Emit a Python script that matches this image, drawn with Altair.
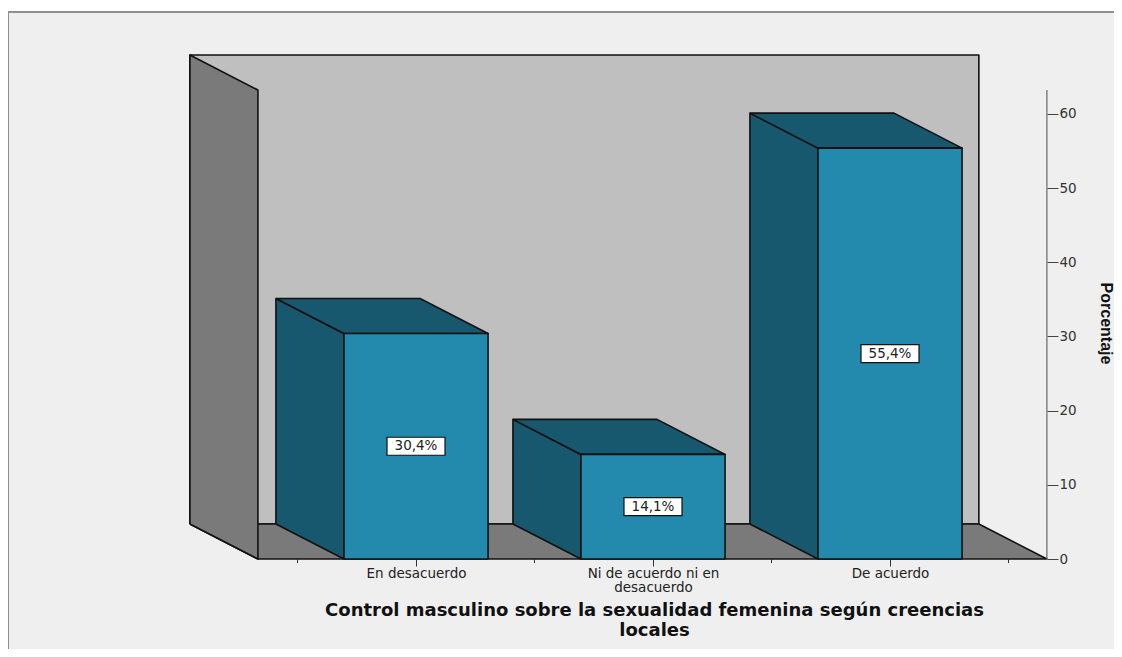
import json
import altair as alt
import pandas as pd

categories = ["En desacuerdo", "Ni de acuerdo ni en\ndesacuerdo", "De acuerdo"]
values = [30.4, 14.1, 55.4]
value_labels = ["30,4%", "14,1%", "55,4%"]
y_ticks = [0, 10, 20, 30, 40, 50, 60]
minor_x_ticks = [-0.5, 0.5, 1.5, 2.5]

# Plot size in pixels, and the per-pixel factors of the two axes
PLOT_W = 1106
PLOT_H = 637
TOP_PX = 12
PX_PER_CAT = 237.0
PX_PER_PCT = 7.417
ZERO_Y = 559 - TOP_PX
# Scale extents, in category units and percent
X_DOMAIN = [-408 / PX_PER_CAT, (PLOT_W - 408) / PX_PER_CAT]
Y_DOMAIN = [(ZERO_Y - PLOT_H) / PX_PER_PCT, ZERO_Y / PX_PER_PCT]
# Pseudo-3D geometry, in the same units
HALF_W = 0.304
DX = 0.287
DY = 4.72
WALL_L = -0.667
WALL_R = 2.662
WALL_TOP = 63.23

FRONT = "#2389AD"
SHADE = "#17586E"
WALL = "#BFBFBF"
DARK = "#7A7A7A"
EDGE = "#111111"

label_arrays = json.dumps([c.split("\n") for c in categories])
x_enc = alt.X("x:Q", scale=alt.Scale(domain=X_DOMAIN, nice=False, zero=False), axis=alt.Axis(
    orient="bottom", offset=-(PLOT_H - ZERO_Y), values=[0, 1, 2], domain=False, grid=False,
    tickSize=7, tickColor="#333333", labelExpr=f"{label_arrays}[datum.value]",
    labelFont="DejaVu Sans", labelFontSize=13.5, labelColor="#222222", labelPadding=0,
    labelLineHeight=14, labelOverlap=False,
    title=["Control masculino sobre la sexualidad femenina según creencias", "locales"],
    titleFont="DejaVu Sans", titleFontSize=18, titleFontWeight="bold", titleColor="#111111",
    titleLineHeight=20, titleX=646, titleY=51, titleBaseline="middle"))
y_enc = alt.Y("y:Q", scale=alt.Scale(domain=Y_DOMAIN, nice=False, zero=False), axis=alt.Axis(
    orient="right", offset=-(PLOT_W + 8 - 1047), values=y_ticks, domain=False, grid=False,
    tickSize=11, tickColor="#444444", labelPadding=1,
    labelFont="DejaVu Sans", labelFontSize=13.5, labelColor="#333333",
    title="Porcentaje", titleFont="Liberation Sans", titleFontSize=16, titleFontWeight="bold",
    titleColor="#111111", titleAngle=90, titleX=58, titleY=311, titleBaseline="middle"))


def poly(points, fill):
    first = points + [points[0]]
    df = pd.DataFrame({"x": [p[0] for p in first], "y": [p[1] for p in first],
                       "o": list(range(len(first)))})
    return alt.Chart(df).mark_line(
        fill=fill, stroke=EDGE, strokeWidth=1.6, strokeJoin="round", filled=True
    ).encode(x=x_enc, y=y_enc, order="o:Q")


# Outer frame, top and left only
frame_h = pd.DataFrame({"x": [X_DOMAIN[0]], "x2": [X_DOMAIN[1]], "y": [Y_DOMAIN[1]]})
frame_v = pd.DataFrame({"x": [X_DOMAIN[0]], "y": [Y_DOMAIN[0]], "y2": [Y_DOMAIN[1]]})

layers = [
    alt.Chart(frame_h).mark_rule(color="#8F8F8F", strokeWidth=2).encode(x=x_enc, x2="x2:Q", y=y_enc),
    alt.Chart(frame_v).mark_rule(color="#8F8F8F", strokeWidth=2).encode(x=x_enc, y=y_enc, y2="y2:Q"),
    poly([(WALL_L - DX, DY), (WALL_R - DX, DY), (WALL_R - DX, WALL_TOP + DY), (WALL_L - DX, WALL_TOP + DY)], WALL),
    poly([(WALL_L - DX, DY), (WALL_R - DX, DY), (WALL_R, 0), (WALL_L, 0)], DARK),
    poly([(WALL_L - DX, DY), (WALL_L, 0), (WALL_L, WALL_TOP), (WALL_L - DX, WALL_TOP + DY)], DARK),
]
for i, v in enumerate(values):
    l, r = i - HALF_W, i + HALF_W
    layers.append(poly([(l - DX, DY), (l, 0), (l, v), (l - DX, v + DY)], SHADE))
    layers.append(poly([(l - DX, v + DY), (r - DX, v + DY), (r, v), (l, v)], SHADE))
    layers.append(poly([(l, 0), (r, 0), (r, v), (l, v)], FRONT))

label_df = pd.DataFrame({"x": list(range(len(values))),
                         "y": [v / 2 for v in values],
                         "t": value_labels})
layers.append(alt.Chart(label_df).mark_rect(width=58, height=18, fill="white", stroke=EDGE, strokeWidth=1.2).encode(
    x=x_enc, y=y_enc))
layers.append(alt.Chart(label_df).mark_text(font="DejaVu Sans", fontSize=13.5, color="#222222").encode(
    x=x_enc, y=y_enc, text="t:N"))

# Minor x ticks
minor_df = pd.DataFrame({"x": minor_x_ticks, "y": [0.0] * 4, "y2": [-0.55] * 4})
layers.append(alt.Chart(minor_df).mark_rule(color="#333333", strokeWidth=1).encode(
    x=x_enc, y=y_enc, y2="y2:Q"))

# Right axis line
axis_df = pd.DataFrame({"x": [WALL_R], "y": [0.0], "y2": [WALL_TOP]})
layers.append(alt.Chart(axis_df).mark_rule(color="#666666", strokeWidth=1.2).encode(
    x=x_enc, y=y_enc, y2="y2:Q"))

chart = alt.layer(*layers).properties(
    width=PLOT_W, height=PLOT_H,
    padding={"left": 0, "top": 4, "right": 0, "bottom": 0},
    autosize=alt.AutoSizeParams(type="none", contains="content"),
    background="white",
).configure_view(fill="#EFEFEF", strokeWidth=0)

chart.save("out.html", embed_options={"renderer": "svg", "actions": False})
